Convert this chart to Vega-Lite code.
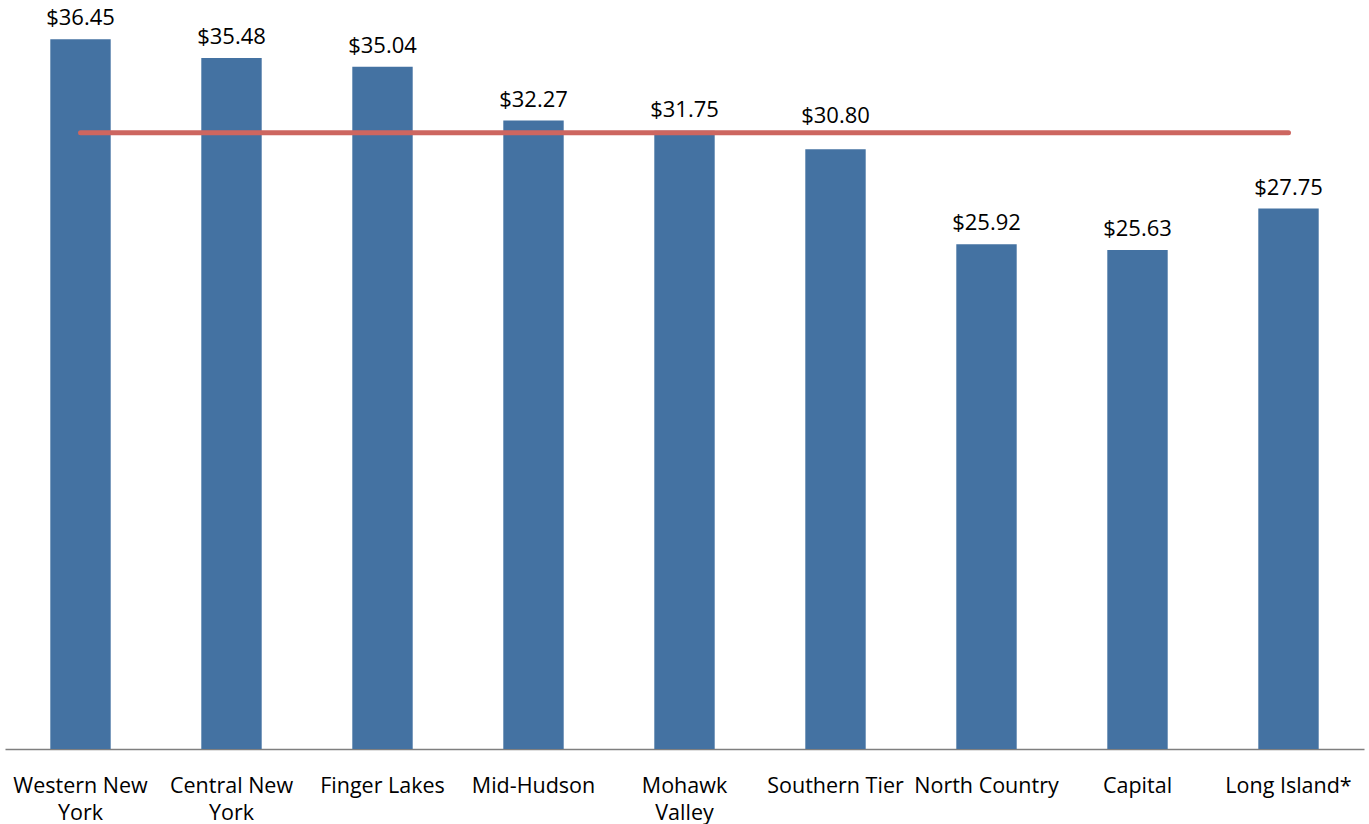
{
  "$schema": "https://vega.github.io/schema/vega-lite/v6.json",
  "width": 1359,
  "height": 740,
  "autosize": "none",
  "padding": {"left": 5, "top": 9, "right": 5, "bottom": 75},
  "background": "white",
  "config": {"view": {"stroke": null}, "font": "Open Sans"},
  "data": {
    "values": [
      {"region": "Western New York", "wage": 36.45, "avg": 31.64},
      {"region": "Central New York", "wage": 35.48, "avg": 31.64},
      {"region": "Finger Lakes", "wage": 35.04, "avg": 31.64},
      {"region": "Mid-Hudson", "wage": 32.27, "avg": 31.64},
      {"region": "Mohawk Valley", "wage": 31.75, "avg": 31.64},
      {"region": "Southern Tier", "wage": 30.80, "avg": 31.64},
      {"region": "North Country", "wage": 25.92, "avg": 31.64},
      {"region": "Capital", "wage": 25.63, "avg": 31.64},
      {"region": "Long Island*", "wage": 27.75, "avg": 31.64}
    ]
  },
  "encoding": {
    "x": {
      "field": "region",
      "type": "nominal",
      "sort": null,
      "scale": {"paddingInner": 0.6, "paddingOuter": 0.3},
      "axis": {
        "title": null,
        "ticks": false,
        "domainColor": "#7f7f7f",
        "domainWidth": 1.5,
        "labelAngle": 0,
        "labelFont": "Open Sans",
        "labelFontSize": 21.5,
        "labelColor": "#000000",
        "labelBaseline": "alphabetic",
        "labelPadding": 43,
        "labelLineHeight": 27,
        "labelOverlap": false,
        "labelLimit": 400,
        "labelExpr": "datum.value == 'Western New York' ? ['Western New', 'York'] : datum.value == 'Central New York' ? ['Central New', 'York'] : datum.value == 'Mohawk Valley' ? ['Mohawk', 'Valley'] : datum.value"
      }
    }
  },
  "layer": [
    {
      "mark": {"type": "bar", "color": "#4472a2"},
      "encoding": {
        "y": {"field": "wage", "type": "quantitative", "scale": {"domain": [0, 38], "nice": false}, "axis": null}
      }
    },
    {
      "transform": [{"filter": "datum.region != 'Southern Tier'"}],
      "mark": {"type": "text", "baseline": "alphabetic", "dy": -14, "fontSize": 22, "font": "Open Sans", "color": "#000000"},
      "encoding": {
        "y": {"field": "wage", "type": "quantitative"},
        "text": {"field": "wage", "type": "quantitative", "format": "$.2f"}
      }
    },
    {
      "transform": [{"filter": "datum.region == 'Southern Tier'"}],
      "mark": {"type": "text", "baseline": "alphabetic", "dy": -26, "fontSize": 22, "font": "Open Sans", "color": "#000000"},
      "encoding": {
        "y": {"field": "wage", "type": "quantitative"},
        "text": {"field": "wage", "type": "quantitative", "format": "$.2f"}
      }
    },
    {
      "mark": {"type": "line", "color": "#cd6660", "strokeWidth": 5, "strokeCap": "round"},
      "encoding": {
        "y": {"field": "avg", "type": "quantitative"}
      }
    }
  ]
}
